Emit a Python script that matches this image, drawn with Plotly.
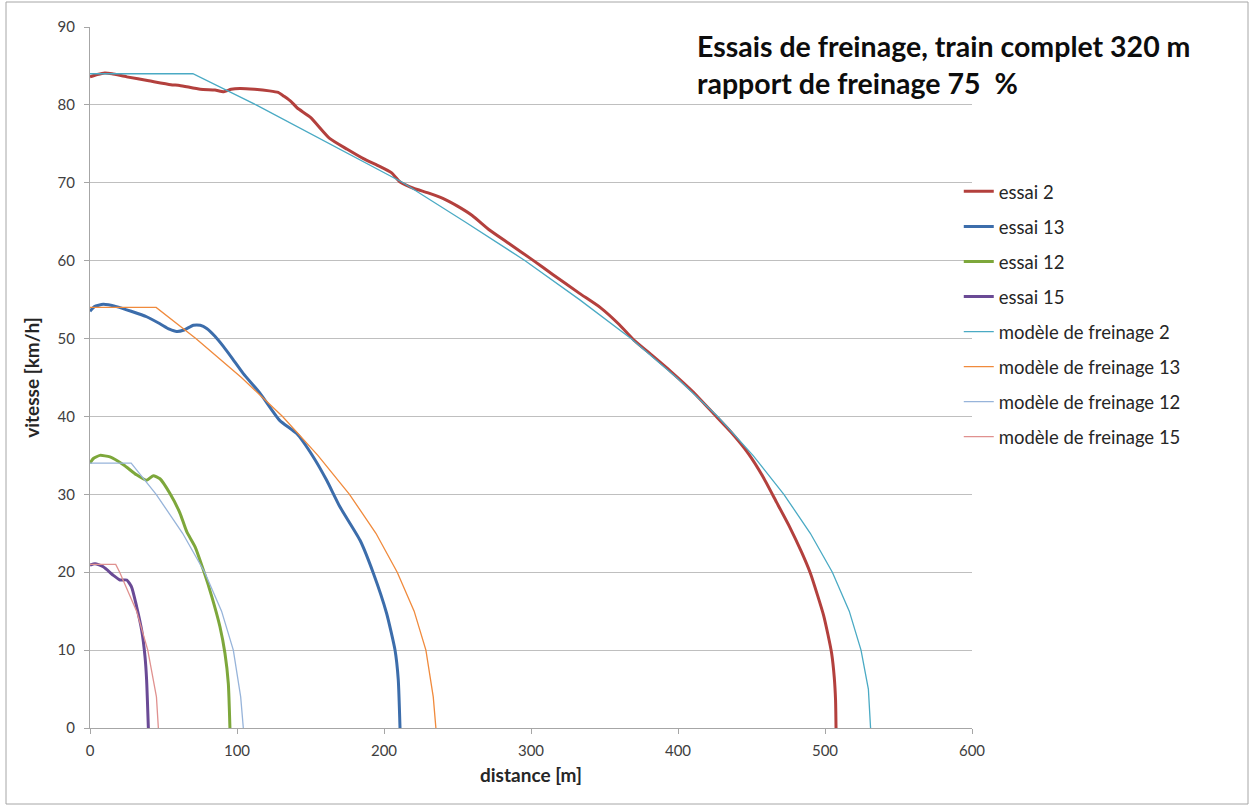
import plotly.graph_objects as go

# ---- measured braking runs (distance [m], speed [km/h]) ----
essai2_d = [0, 5, 10, 15, 25, 40, 55, 61, 75, 85, 91, 96, 102, 112, 122, 128, 132, 137, 141, 150,
            163, 175, 186, 196, 205, 211, 220, 230, 240, 250, 260, 272, 285, 301, 315, 333, 347,
            360, 370, 382, 395, 410, 424, 436, 448, 458, 467, 476, 484, 490, 495, 499, 502,
            504.5, 506.3, 507.2, 507.5]
essai2_v = [83.6, 83.9, 84.1, 84.0, 83.6, 83.1, 82.6, 82.5, 82.0, 81.9, 81.7, 82.0, 82.1, 82.0,
            81.8, 81.6, 81.1, 80.4, 79.6, 78.4, 75.7, 74.3, 73.1, 72.2, 71.3, 70.1, 69.3, 68.7,
            68.0, 67.0, 65.8, 63.9, 62.2, 60.1, 58.2, 55.8, 54.0, 51.8, 49.8, 47.9, 45.8, 43.2,
            40.4, 38.0, 35.2, 32.2, 29.0, 25.8, 22.6, 19.9, 17.0, 14.5, 12.0, 9.6, 6.5, 3.5, 0]

essai13_d = [0, 3, 9, 18, 28, 38.5, 47.6, 54, 59, 64, 70.3, 75, 79.4, 85, 90.7, 97, 104.3, 115.6,
             129, 140.6, 151.9, 161, 170, 183.7, 192.7, 201.8, 207.5, 209.7, 210.9]
essai13_v = [53.5, 54.1, 54.4, 54.1, 53.5, 52.8, 51.9, 51.2, 50.9, 51.1, 51.7, 51.7, 51.3, 50.3,
             49.0, 47.4, 45.5, 43.0, 39.5, 37.8, 34.8, 31.8, 28.4, 24.1, 19.9, 14.7, 10.0, 6.2, 0]

essai12_d = [0, 2.3, 6.8, 13.6, 22.7, 31.7, 38.5, 43, 47.6, 54.4, 61.2, 65.8, 71.4, 77.1, 82.8,
             88.4, 91.8, 94.1, 95.2]
essai12_v = [34.0, 34.6, 35.0, 34.8, 33.8, 32.5, 31.8, 32.4, 32.0, 30.1, 27.6, 25.2, 23.3, 20.3,
             16.9, 13.0, 9.6, 5.7, 0]

essai15_d = [0, 3.4, 9, 15.9, 20.4, 25, 28.3, 31.7, 35.1, 37.4, 38.5, 39.7]
essai15_v = [20.9, 21.1, 20.7, 19.6, 19.0, 19.0, 18.1, 15.6, 12.6, 9.2, 6.2, 0]

# ---- braking model curves ----
model2_d = [0, 70, 113, 163, 213, 255, 296, 333, 368, 399, 427, 451, 472, 490, 505, 516.5,
            524.5, 529.5, 531]
model2_v = [84, 84, 80, 75, 70, 65, 60, 55, 50, 45, 40, 35, 30, 25, 20, 15, 10, 5, 0]

model13_d = [0, 45, 72, 103, 131, 155, 176.5, 194.5, 209, 220.5, 228.5, 233.5, 235.3]
model13_v = [54, 54, 50, 45, 40, 35, 30, 25, 20, 15, 10, 4, 0]

model12_d = [0, 28, 45, 63, 78, 89.5, 97.5, 102.5, 104.3]
model12_v = [34, 34, 30, 25, 20, 15, 10, 4, 0]

model15_d = [0, 17.5, 20.2, 31.7, 39.3, 45.2, 46.5]
model15_v = [21, 21, 20, 15, 10, 4, 0]

series = [
    ("essai 2", essai2_d, essai2_v, "#B3403D", 3),
    ("essai 13", essai13_d, essai13_v, "#3C6DAB", 3),
    ("essai 12", essai12_d, essai12_v, "#7DA73B", 3),
    ("essai 15", essai15_d, essai15_v, "#6A4A95", 3),
    ("modèle de freinage 2", model2_d, model2_v, "#4AAAC4", 1.3),
    ("modèle de freinage 13", model13_d, model13_v, "#F08A3C", 1.3),
    ("modèle de freinage 12", model12_d, model12_v, "#97B4DA", 1.3),
    ("modèle de freinage 15", model15_d, model15_v, "#E0918F", 1.3),
]

FONT = "Lato, 'Open Sans', Arial, sans-serif"

fig = go.Figure()
for name, d, v, color, w in series:
    fig.add_trace(go.Scatter(
        x=d, y=v, mode="lines", name=name, legendgroup=name,
        line=dict(color=color, width=w, shape="spline" if w > 2 else "linear", smoothing=0.5),
    ))

fig.update_layout(
    width=1253, height=807,
    margin=dict(l=90, r=281, t=27, b=79),
    paper_bgcolor="white", plot_bgcolor="white",
    font=dict(family=FONT, size=15, color="#404040"),
    showlegend=True,
    legend=dict(
        x=0.985, y=0.792, xanchor="left", yanchor="top",
        font=dict(family=FONT, size=18.5, color="#262626"),
        tracegroupgap=8, bgcolor="rgba(0,0,0,0)",
    ),
    xaxis=dict(
        range=[0, 600], dtick=100, showgrid=False, zeroline=False,
        showline=True, linecolor="#A6A6A6", linewidth=1,
        ticks="outside", ticklen=5, tickcolor="#A6A6A6", ticklabelstandoff=4,
        tickfont=dict(family=FONT, size=15, color="#404040"),
        title=dict(text="<b>distance [m]</b>", font=dict(family=FONT, size=19, color="#262626"),
                   standoff=10),
    ),
    yaxis=dict(
        range=[0, 90], dtick=10, showgrid=True, gridcolor="#BFBFBF", gridwidth=1,
        zeroline=False, showline=True, linecolor="#A6A6A6", linewidth=1,
        ticks="outside", ticklen=5, tickcolor="#A6A6A6", ticklabelstandoff=6,
        tickfont=dict(family=FONT, size=15, color="#404040"),
        title=dict(text="<b>vitesse [km/h]</b>", font=dict(family=FONT, size=19, color="#262626"),
                   standoff=12),
    ),
    annotations=[dict(
        xref="paper", yref="paper", x=0.686, y=1.0, xanchor="left", yanchor="top",
        align="left", showarrow=False,
        text="<b>Essais de freinage, train complet 320 m<br>rapport de freinage 75  %</b>",
        font=dict(family=FONT, size=28.5, color="#0D0D0D"),
    )],
    shapes=[dict(
        type="rect", xref="paper", yref="paper",
        x0=(6 - 90) / 882, x1=(1248 - 90) / 882,
        y0=(728 - 804) / 701, y1=(728 - 2) / 701,
        line=dict(color="#A6A6A6", width=1), fillcolor="rgba(0,0,0,0)", layer="below",
    )],
)

fig.write_html("out.html")
